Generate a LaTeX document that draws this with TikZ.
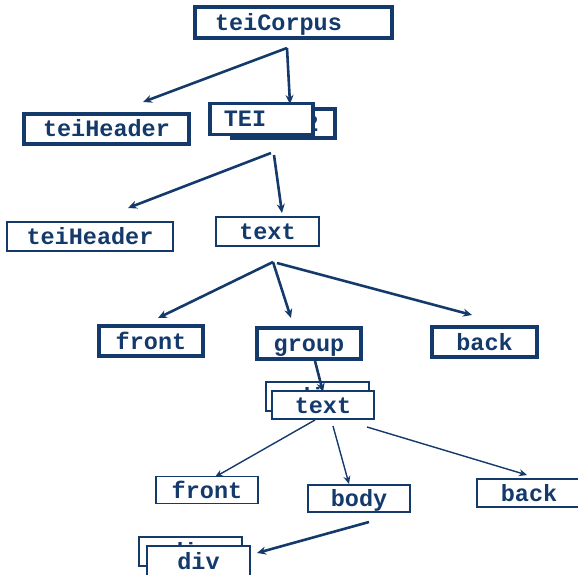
\documentclass[tikz,border=0pt]{standalone}
\usepackage{fontspec}
\newfontfamily\boxfont{Liberation Mono}
\usetikzlibrary{arrows.meta}
\definecolor{navy}{RGB}{20,58,108}
\tikzset{
  box/.style={draw=navy, fill=white, rectangle, inner sep=0pt,
    text=navy, font=\boxfont\bfseries\fontsize{23.5}{24}\selectfont,
    text height=18pt, text depth=2pt},
  thickbox/.style={box, line width=3.1pt},
  midbox/.style={box, line width=2.5pt},
  thinbox/.style={box, line width=1.6pt},
  arr/.style={draw=navy, line width=2.6pt, -{Stealth[length=9pt,width=8pt]}},
  thinarr/.style={draw=navy, line width=1.4pt, -{Stealth[length=8pt,width=7pt]}},
}
\begin{document}
\begin{tikzpicture}[x=1pt,y=-1pt]
\useasboundingbox (0,0) rectangle (578,575);
% level 0
\node[thickbox, minimum width=197pt, minimum height=31pt] (tc) at (293.5,22.5) {teiCorpus\hspace*{30pt}};
% level 1
\node[thickbox, minimum width=165pt, minimum height=30pt] (th1) at (106.5,129) {teiHeader};
\node[thickbox, minimum width=103pt, minimum height=29pt] (teib) at (283.5,123.5) {TEI.2};
\node[thickbox, minimum width=103pt, minimum height=31pt] (tei) at (261.5,119) {TEI\hspace*{33pt}};
% level 2
\node[thinbox, minimum width=166pt, minimum height=29pt] (th2) at (90,236.5) {teiHeader};
\node[midbox, minimum width=103pt, minimum height=29pt] (txt1) at (267.5,231.5) {text};
% level 3
\node[thickbox, minimum width=104pt, minimum height=30pt] (fr1) at (151,341) {front};
\node[thickbox, minimum width=104pt, minimum height=31pt] (grp) at (309,343.5) {group};
\node[thickbox, minimum width=105pt, minimum height=30pt] (bk1) at (484.5,342) {back};
% level 4
\node[midbox, minimum width=103pt, minimum height=29pt] (txtb) at (317.5,396.5) {div};
\node[thinbox, minimum width=102pt, minimum height=28pt] (txt2) at (323,405) {text};
% level 5
\node[thinbox, minimum width=102pt, minimum height=27pt] (fr2) at (207,490) {front};
\node[thinbox, minimum width=102pt, minimum height=27pt] (body) at (359,498.5) {body};
\node[thinbox, minimum width=104pt, minimum height=28pt] (bk2) at (529,493) {back};
% level 6
\node[midbox, minimum width=103pt, minimum height=29pt] (divb) at (190.5,551.5) {div};
\node[midbox, minimum width=103pt, minimum height=30pt] (div) at (198.5,561) {div};
% connector end points
\coordinate (s1) at (287,48);
\coordinate (e1a) at (143,102);
\coordinate (e1b) at (290,104);
\coordinate (s2a) at (271,153);
\coordinate (s2b) at (274,155);
\coordinate (e2a) at (128,208);
\coordinate (e2b) at (282,213);
\coordinate (s3a) at (273,262);
\coordinate (s3b) at (277,263);
\coordinate (e3a) at (158,318);
\coordinate (e3b) at (291,318);
\coordinate (e3c) at (472,315);
\coordinate (s4) at (315,361);
\coordinate (e4) at (323,392);
\coordinate (s5a) at (315,420);
\coordinate (s5b) at (333,426);
\coordinate (s5c) at (367,427);
\coordinate (e5a) at (215,477);
\coordinate (e5b) at (349,484);
\coordinate (e5c) at (527,475);
\coordinate (s6) at (369,522);
\coordinate (e6) at (257,553);
% connectors
\draw[arr] (s1) -- (e1a);
\draw[arr] (s1) -- (e1b);
\draw[arr] (s2a) -- (e2a);
\draw[arr] (s2b) -- (e2b);
\draw[arr] (s3a) -- (e3a);
\draw[arr] (s3a) -- (e3b);
\draw[arr] (s3b) -- (e3c);
\draw[arr] (s4) -- (e4);
\draw[thinarr] (s5a) -- (e5a);
\draw[thinarr] (s5b) -- (e5b);
\draw[thinarr] (s5c) -- (e5c);
\draw[arr] (s6) -- (e6);
\end{tikzpicture}
\end{document}
